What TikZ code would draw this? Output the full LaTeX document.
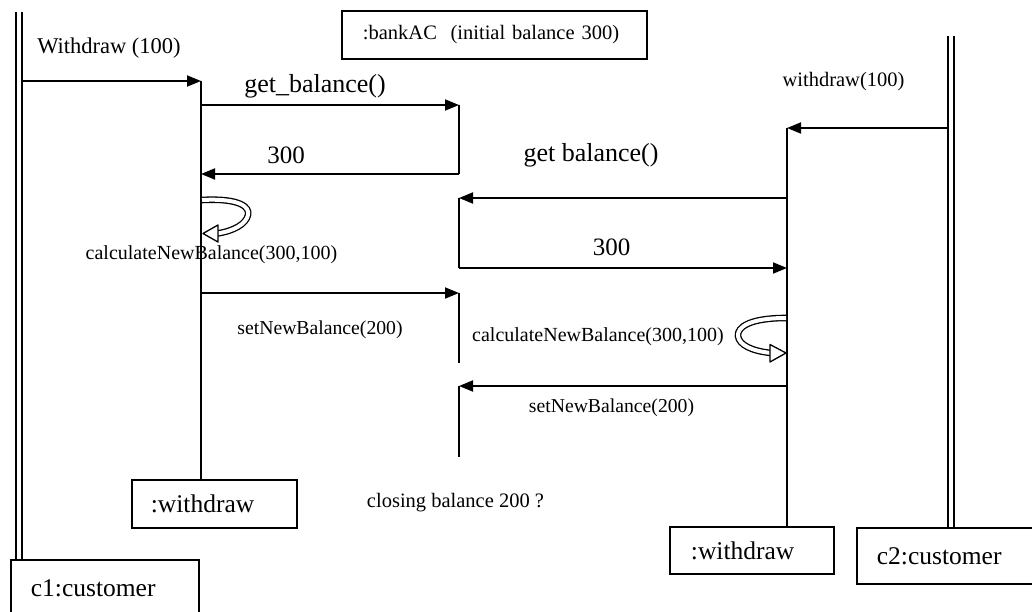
\documentclass[tikz,border=0pt]{standalone}
\usepackage{fontspec}
\setmainfont{Liberation Serif}
\usetikzlibrary{arrows.meta}
\tikzset{
  ln/.style={line width=1.8pt},
  msg/.style={line width=1.8pt,-{Triangle[length=14pt,width=11pt]}},
  fs/.style={inner sep=0pt,font=\fontsize{#1}{#1}\selectfont},
  objbox/.style={draw,line width=1.8pt,anchor=north west,align=left,inner ysep=0pt},
  dline/.style={line width=2pt,double,double distance=4pt},
  loopband/.style={line width=1.3pt,double,double distance=4pt},
  loophead/.style={fill=white,draw,line width=1.3pt,line join=round}
}
\begin{document}
\begin{tikzpicture}[x=1pt,y=-1pt]
\useasboundingbox (0,0) rectangle (1032,612);

% object boxes
\node[objbox,fs=20.5,inner xsep=21pt,text width=263pt,minimum height=48pt] (bank) at (341,10) {:bankAC~ (initial balance 300)};
\node[objbox,fs=25.5,inner xsep=19pt,text width=127pt,minimum height=48pt] (w1) at (131,479) {:withdraw};
\node[objbox,fs=25.5,inner xsep=21pt,text width=122pt,minimum height=47pt] (w2) at (669,526) {:withdraw};
\node[objbox,fs=25.5,inner xsep=20pt,text width=148pt,minimum height=56pt] (c1) at (10,559) {c1:customer};
\node[objbox,fs=25.5,inner xsep=20pt,text width=144pt,minimum height=56pt] (c2) at (856,527) {c2:customer};

% lifelines
\coordinate (c1top) at (19,12);
\coordinate (c2top) at (950.5,36);
\coordinate (w1top) at (201,81);
\coordinate (w2top) at (787,128);
\draw[dline] (c1top) -- (c1top |- c1.north);
\draw[dline] (c2top) -- (c2top |- c2.north);
\draw[ln] (w1top) -- (w1top |- w1.north);
\draw[ln] (w2top) -- (w2top |- w2.north);

% bank activations
\coordinate (b1a) at (459,105); \coordinate (b1b) at (459,174);
\coordinate (b2a) at (459,198); \coordinate (b2b) at (459,268);
\coordinate (b3a) at (459,293); \coordinate (b3b) at (459,363);
\coordinate (b4a) at (459,386); \coordinate (b4b) at (459,457);
\draw[ln] (b1a) -- (b1b);
\draw[ln] (b2a) -- (b2b);
\draw[ln] (b3a) -- (b3b);
\draw[ln] (b4a) -- (b4b);

% messages
\coordinate (c1out) at (22,81);
\coordinate (c2out) at (947,128);
\draw[msg] (c1out) -- (w1top);
\draw[msg] (w1top |- b1a) -- (b1a);
\draw[msg] (b1b) -- (w1top |- b1b);
\draw[msg] (w2top |- b2a) -- (b2a);
\draw[msg] (b2b) -- (w2top |- b2b);
\draw[msg] (w1top |- b3a) -- (b3a);
\draw[msg] (c2out) -- (w2top);
\draw[msg] (w2top |- b4a) -- (b4a);

% self calls
\draw[loopband] (202,200) .. controls (240,198) and (250,207) .. (248,215) .. controls (246,224) and (234,231) .. (217,233.5);
\draw[loophead] (203,233.5) -- (218,225) -- (218,242) -- cycle;
\draw[loopband] (786,318) .. controls (750,318) and (737,327) .. (738,336) .. controls (739,345) and (752,351) .. (771,353);
\draw[loophead] (786,353) -- (770,344.5) -- (770,362) -- cycle;

% labels
\node[fs=22.5] (l1) at (109,48) {Withdraw (100)};
\node[fs=26] (l2) at (315,86) {get\_balance()};
\node[fs=25] (l3) at (286,155) {300};
\node[fs=20] (l4) at (211.5,255) {calculateNewBalance(300,100)};
\node[fs=19.7] (l5) at (320,330) {setNewBalance(200)};
\node[fs=20.5] (l6) at (843.5,82) {withdraw(100)};
\node[fs=26] (l7) at (591,155) {get balance()};
\node[fs=25] (l8) at (611.5,247) {300};
\node[fs=20] (l9) at (598,337) {calculateNewBalance(300,100)};
\node[fs=19.7] (l10) at (611.5,408) {setNewBalance(200)};
\node[fs=20.5] (l11) at (455.5,503) {closing balance 200 ?};
\end{tikzpicture}
\end{document}
